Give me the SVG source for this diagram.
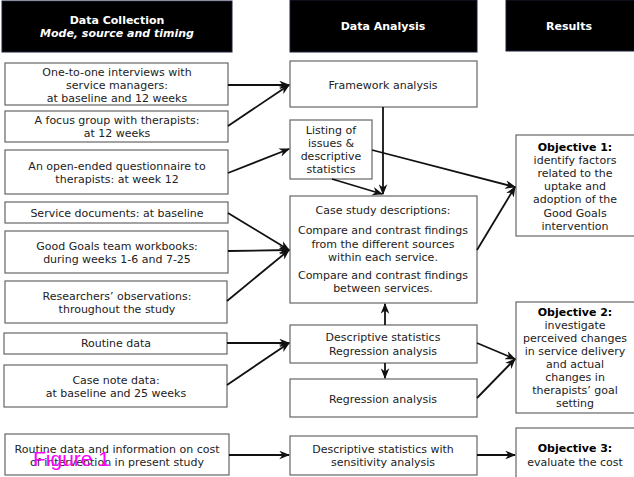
<svg xmlns="http://www.w3.org/2000/svg" width="634" height="477" viewBox="0 0 634 477">
<defs>
<style>
.hdr{fill:#000;stroke:#1a1f3a;stroke-width:1}
.box{fill:#fff;stroke:#666;stroke-width:1.2}
.ht{font-family:"DejaVu Sans",Verdana,sans-serif;font-size:11px;font-weight:bold;fill:#fff;text-anchor:middle}
.t{font-family:"DejaVu Sans",Verdana,sans-serif;font-size:11px;fill:#222;text-anchor:middle}
.b{font-weight:bold;fill:#000}
.con{stroke:#111;stroke-width:1.8;fill:none;marker-end:url(#ah)}
.fig{font-family:"Liberation Sans",Arial,sans-serif;font-size:21px;fill:#ff00ff}
</style>
<marker id="ah" viewBox="0 0 10 8" refX="9" refY="4" markerWidth="6" markerHeight="5" orient="auto" markerUnits="strokeWidth">
<path d="M0,0 L10,4 L0,8 L3,4 z" fill="#111"/>
</marker>
</defs>
<rect width="634" height="477" fill="#fff"/>

<g id="h1"><rect class="hdr" x="2" y="1" width="230" height="51"/><text class="ht" x="117" y="24">Data Collection</text><text class="ht" x="117" y="37" font-style="italic">Mode, source and timing</text></g>
<g id="h2"><rect class="hdr" x="290" y="0" width="187" height="52"/><text class="ht" x="383" y="30">Data Analysis</text></g>
<g id="h3"><rect class="hdr" x="506" y="0" width="130" height="51"/><text class="ht" x="569" y="30">Results</text></g>

<g id="c1"><rect class="box" x="5" y="63" width="223" height="42"/><text class="t" x="117" y="75.5">One-to-one interviews with</text><text class="t" x="117" y="88.5">service managers:</text><text class="t" x="117" y="101.5">at baseline and 12 weeks</text></g>
<g id="c2"><rect class="box" x="5" y="111" width="223" height="31"/><text class="t" x="117" y="124">A focus group with therapists:</text><text class="t" x="117" y="137">at 12 weeks</text></g>
<g id="c3"><rect class="box" x="5" y="150" width="223" height="44"/><text class="t" x="117" y="169.5">An open-ended questionnaire to</text><text class="t" x="117" y="182.5">therapists: at week 12</text></g>
<g id="c4"><rect class="box" x="5" y="202" width="223" height="21"/><text class="t" x="117" y="216.5">Service documents: at baseline</text></g>
<g id="c5"><rect class="box" x="5" y="231" width="223" height="42"/><text class="t" x="117" y="249.5">Good Goals team workbooks:</text><text class="t" x="117" y="262.5">during weeks 1-6 and 7-25</text></g>
<g id="c6"><rect class="box" x="5" y="281" width="222" height="42"/><text class="t" x="117" y="299.5">Researchers’ observations:</text><text class="t" x="117" y="312.5">throughout the study</text></g>
<g id="c7"><rect class="box" x="4" y="333" width="223" height="21"/><text class="t" x="116" y="346.5">Routine data</text></g>
<g id="c8"><rect class="box" x="4" y="365" width="223" height="42"/><text class="t" x="116" y="383.5">Case note data:</text><text class="t" x="116" y="396.5">at baseline and 25 weeks</text></g>
<g id="c9"><rect class="box" x="5" y="434" width="224" height="41"/><text class="t" x="117" y="452.5">Routine data and information on cost</text><text class="t" x="117" y="465.5">of intervention in present study</text></g>

<g id="a1"><rect class="box" x="290" y="61" width="187" height="46"/><text class="t" x="383" y="88.5">Framework analysis</text></g>
<g id="a2"><rect class="box" x="290" y="120" width="82" height="59"/><text class="t" x="331" y="133.5">Listing of</text><text class="t" x="331" y="146.5">issues &amp;</text><text class="t" x="331" y="160">descriptive</text><text class="t" x="331" y="173">statistics</text></g>
<g id="a3"><rect class="box" x="290" y="196" width="187" height="107"/><text class="t" x="383" y="213.5">Case study descriptions:</text><text class="t" x="383" y="233.5">Compare and contrast findings</text><text class="t" x="383" y="247.5">from the different sources</text><text class="t" x="383" y="260.5">within each service.</text><text class="t" x="383" y="278.5">Compare and contrast findings</text><text class="t" x="383" y="291.5">between services.</text></g>
<g id="a4"><rect class="box" x="290" y="325" width="187" height="38"/><text class="t" x="383" y="340.5">Descriptive statistics</text><text class="t" x="383" y="354.5">Regression analysis</text></g>
<g id="a5"><rect class="box" x="290" y="379" width="187" height="38"/><text class="t" x="383" y="402.5">Regression analysis</text></g>
<g id="a6"><rect class="box" x="290" y="436" width="187" height="39"/><text class="t" x="383" y="452.5">Descriptive statistics with</text><text class="t" x="383" y="465.5">sensitivity analysis</text></g>

<g id="r1"><rect class="box" x="516" y="135" width="119" height="101"/><text class="t b" x="575" y="150.5">Objective 1:</text><text class="t" x="575" y="163.5">identify factors</text><text class="t" x="575" y="176.5">related to the</text><text class="t" x="575" y="189.5">uptake and</text><text class="t" x="575" y="202.5">adoption of the</text><text class="t" x="575" y="216.5">Good Goals</text><text class="t" x="575" y="229.5">intervention</text></g>
<g id="r2"><rect class="box" x="516" y="302" width="119" height="111"/><text class="t b" x="575" y="315.5">Objective 2:</text><text class="t" x="575" y="328.5">investigate</text><text class="t" x="575" y="341.5">perceived changes</text><text class="t" x="575" y="355">in service delivery</text><text class="t" x="575" y="368">and actual</text><text class="t" x="575" y="381">changes in</text><text class="t" x="575" y="394">therapists’ goal</text><text class="t" x="575" y="407">setting</text></g>
<g id="r3"><rect class="box" x="516" y="428" width="119" height="52"/><text class="t b" x="575" y="451.5">Objective 3:</text><text class="t" x="575" y="465.5">evaluate the cost</text></g>

<g id="connectors">
<line class="con" x1="228" y1="85" x2="289" y2="85"/>
<line class="con" x1="228" y1="126" x2="289" y2="85"/>
<line class="con" x1="228" y1="173" x2="289" y2="149"/>
<line class="con" x1="228" y1="213" x2="289" y2="250"/>
<line class="con" x1="228" y1="251" x2="289" y2="250"/>
<line class="con" x1="227" y1="301" x2="289" y2="250"/>
<line class="con" x1="227" y1="343" x2="289" y2="343"/>
<line class="con" x1="227" y1="385" x2="289" y2="343"/>
<line class="con" x1="229" y1="455" x2="289" y2="455"/>
<line class="con" x1="383" y1="107" x2="383" y2="194"/>
<line class="con" x1="332" y1="179" x2="382" y2="194"/>
<line class="con" x1="372" y1="150" x2="515" y2="187"/>
<line class="con" x1="477" y1="250" x2="515" y2="187"/>
<line class="con" x1="385" y1="325" x2="385" y2="304"/>
<line class="con" x1="385" y1="363" x2="385" y2="378"/>
<line class="con" x1="477" y1="343" x2="515" y2="359"/>
<line class="con" x1="477" y1="398" x2="515" y2="359"/>
<line class="con" x1="477" y1="455" x2="515" y2="455"/>
</g>
<text class="fig" x="33" y="466">Figure 1</text>
</svg>
